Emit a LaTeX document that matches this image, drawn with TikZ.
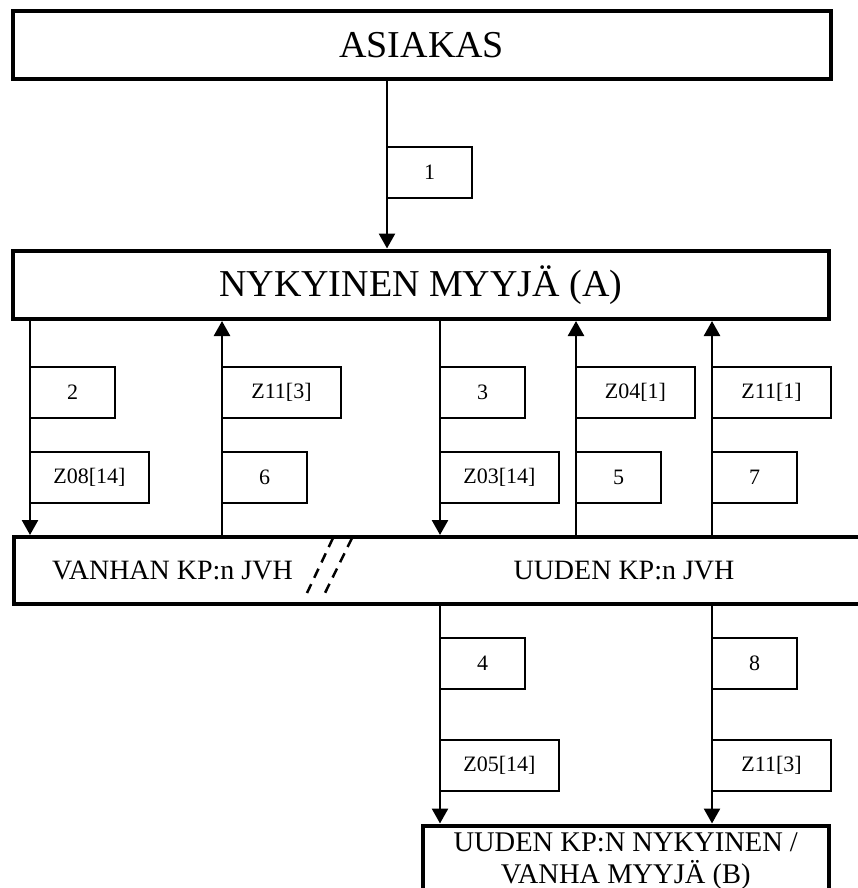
\documentclass[tikz,border=0pt]{standalone}
\usepackage{fontspec}
\setmainfont{Liberation Serif}
\usetikzlibrary{arrows.meta}

\begin{document}
\begin{tikzpicture}[x=1pt, y=-1pt, >={Triangle[width=16pt,length=15pt]},
  osapuoli/.style={draw, line width=4pt, inner sep=0pt, font=\fontsize{38}{44}\selectfont},
  sanoma/.style={draw, line width=1.5pt, anchor=west, outer sep=0pt, inner sep=0pt,
    minimum width=85pt, minimum height=51pt, font=\fontsize{22}{26}\selectfont},
  sanomaw/.style={sanoma, minimum width=119pt},
  yhteys/.style={line width=2.6pt}]
\useasboundingbox (0,0) rectangle (858,888);

% Osapuolet
\node[osapuoli, minimum width=817.5pt, minimum height=68pt] (asiakas) at (421.75,45.5) {ASIAKAS};
\node[osapuoli, minimum width=815.5pt, minimum height=68.5pt] (myyja) at (420.75,284.75) {NYKYINEN MYYJÄ (A)};
\node[osapuoli, minimum width=861pt, minimum height=67pt] (jvh) at (444.5,570.5) {};
\node[osapuoli, minimum width=405.5pt, minimum height=100pt] (myyjab) at (625.75,875.5) {};

% Tekstit
\node[anchor=west, inner sep=0pt, font=\fontsize{28}{32}\selectfont] (vanhan) at ([xshift=40pt]jvh.west) {VANHAN KP:n JVH};
\node[inner sep=0pt, font=\fontsize{28}{32}\selectfont] (uuden) at (624,570.5) {UUDEN KP:n JVH};
\node[anchor=north, align=center, inner sep=0pt, font=\fontsize{28.5}{32}\selectfont] (myyjabt) at ([yshift=-8.7pt]myyjab.north) {UUDEN KP:N NYKYINEN /\\VANHA MYYJÄ (B)};

% Katkos
\draw[line width=2.5pt, dash pattern=on 10pt off 7pt] (333,538) -- (307,593);
\draw[line width=2.5pt, dash pattern=on 10pt off 7pt] (352,538) -- (325,593);

% Sanomat
\node[sanoma] (s1) at (387,172.5) {1};
\node[sanoma] (s2) at (30,392.5) {2};
\node[sanomaw] (z0814) at (30,477.5) {Z08[14]};
\node[sanomaw] (z113a) at (222,392.5) {Z11[3]};
\node[sanoma] (s6) at (222,477.5) {6};
\node[sanoma] (s3) at (440,392.5) {3};
\node[sanomaw] (z0314) at (440,477.5) {Z03[14]};
\node[sanomaw] (z041) at (576,392.5) {Z04[1]};
\node[sanoma] (s5) at (576,477.5) {5};
\node[sanomaw] (z111) at (712,392.5) {Z11[1]};
\node[sanoma] (s7) at (712,477.5) {7};
\node[sanoma] (s4) at (440,663.5) {4};
\node[sanomaw] (z0514) at (440,765.5) {Z05[14]};
\node[sanoma] (s8) at (712,663.5) {8};
\node[sanomaw] (z113b) at (712,765.5) {Z11[3]};

% Yhteydet
\foreach \nimi/\x in {k1/387, k2/30, k3/222, k4/440, k5/576, k6/712}
  \coordinate (\nimi) at (\x,0);
\draw[yhteys, ->] (asiakas.south -| k1) -- (myyja.north -| k1);
\draw[yhteys, ->] (myyja.south -| k2) -- (jvh.north -| k2);
\draw[yhteys, <-] (myyja.south -| k3) -- (jvh.north -| k3);
\draw[yhteys, ->] (myyja.south -| k4) -- (jvh.north -| k4);
\draw[yhteys, <-] (myyja.south -| k5) -- (jvh.north -| k5);
\draw[yhteys, <-] (myyja.south -| k6) -- (jvh.north -| k6);
\draw[yhteys, ->] (jvh.south -| k4) -- (myyjab.north -| k4);
\draw[yhteys, ->] (jvh.south -| k6) -- (myyjab.north -| k6);
\end{tikzpicture}
\end{document}
